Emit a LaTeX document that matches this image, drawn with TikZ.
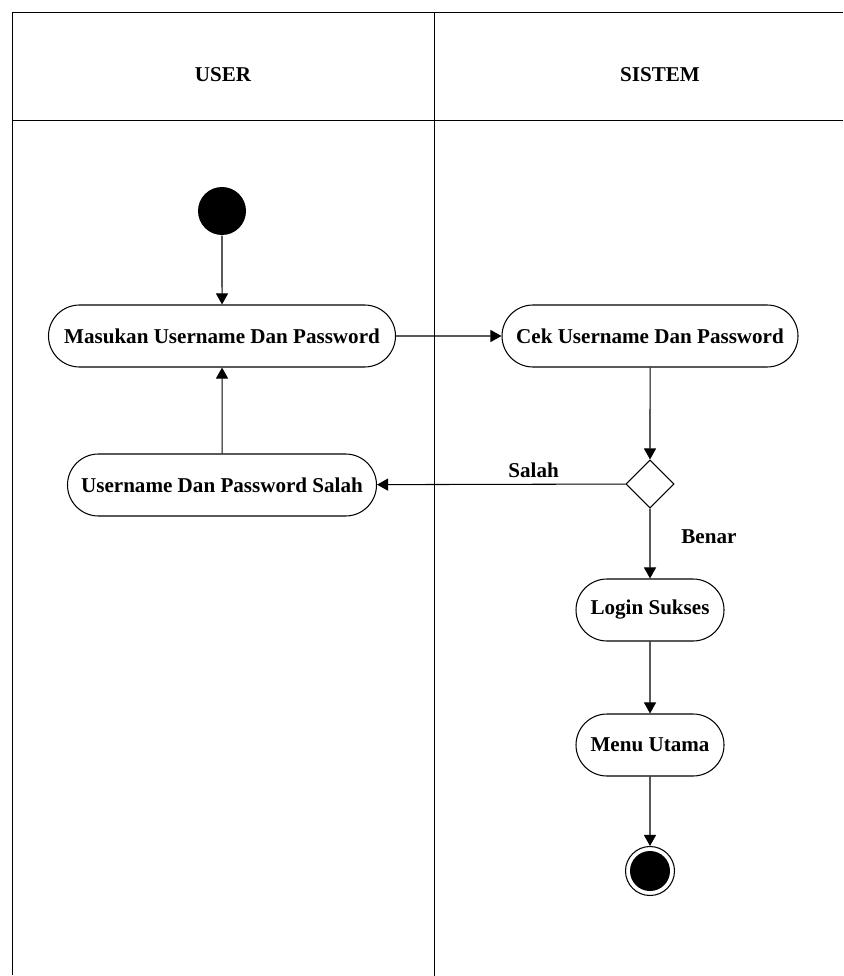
\documentclass[tikz,border=0pt]{standalone}
\usepackage{fontspec}
\setmainfont{Liberation Serif}
\usetikzlibrary{arrows.meta,shapes.misc,shapes.geometric}

\begin{document}
\begin{tikzpicture}[semithick, >={Triangle[width=0.24cm,length=0.22cm]},
  every node/.style={font=\fontsize{12}{14}\selectfont\bfseries},
  act/.style={draw, rounded rectangle, minimum height=1.24cm, inner sep=0pt},
  dot/.style={circle, fill=black, inner sep=0pt}]

\useasboundingbox (0,0) rectangle (16.86,-19.52);

% --- Swimlanes ---
\draw[thin] (0.24,-19.5) -- (0.24,-0.24) -- (16.86,-0.24);
\draw[thin] (0.24,-2.4) -- (16.86,-2.4);
\draw[thin] (8.68,-0.24) -- (8.68,-19.52);
\node (user) at (4.46,-1.5) {USER};
\node (sistem) at (13.2,-1.5) {SISTEM};

% --- USER lane ---
\node[dot, minimum size=0.96cm] (start) at (4.44,-4.22) {};
\node[act, minimum width=6.94cm] (masuk) at (4.44,-6.72) {Masukan Username Dan Password};
\node[act, minimum width=6.18cm] (salah) at (4.44,-9.7) {Username Dan Password Salah};

% --- SISTEM lane ---
\node[act, minimum width=5.92cm] (cek) at (13.0,-6.72) {Cek Username Dan Password};
\node[draw, diamond, minimum size=0.96cm, inner sep=0pt] (cabang) at (13.0,-9.68) {};
\node[act, minimum width=2.96cm] (login) at (13.0,-12.2) {Login Sukses};
\node[act, minimum width=2.96cm] (menu) at (13.0,-14.9) {Menu Utama};
\node[draw, circle, minimum size=0.98cm, inner sep=0pt] (akhir) at (13.0,-17.42) {};
\node[dot, minimum size=0.8cm] (akhirdot) at (akhir) {};

% --- Flows ---
\draw[->] (start) -- (masuk);
\draw[->] (masuk) -- (cek);
\draw[->] (cek) -- (cabang);
\draw[->] (cabang) -- node[above, pos=0.37] {Salah} (salah);
\draw[->] (cabang) -- node[right, pos=0.4, xshift=0.5cm] {Benar} (login);
\draw[->] (salah) -- (masuk);
\draw[->] (login) -- (menu);
\draw[->] (menu) -- (akhir);

\end{tikzpicture}
\end{document}
